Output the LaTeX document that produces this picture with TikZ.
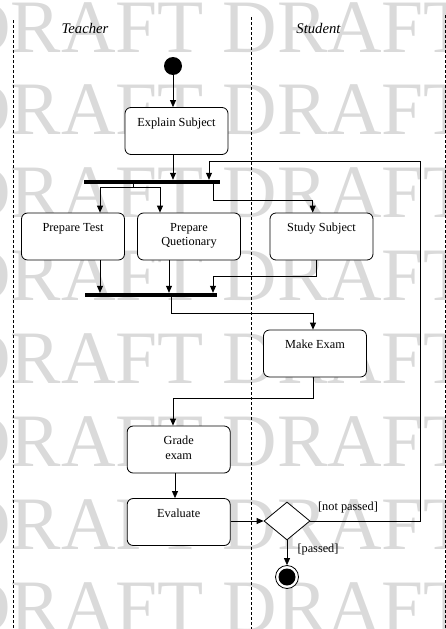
\documentclass[tikz,border=0pt]{standalone}
\usepackage{fontspec}
\setmainfont{Liberation Serif}
\usetikzlibrary{arrows.meta,shapes.geometric}
\definecolor{wmgray}{RGB}{218,218,218}
\begin{document}
\begin{tikzpicture}[x=1pt,y=-1pt,
  every node/.style={font=\fontsize{12.3}{14.5}\selectfont},
  act/.style={draw, rounded corners=6pt, fill=white, minimum width=103pt,
    minimum height=47pt, inner sep=0pt, line width=0.8pt},
  acttext/.style={anchor=north, inner sep=0pt, align=center, yshift=-10.5pt},
  bar/.style={fill=black, inner sep=0pt, minimum height=4pt},
  plain/.style={line width=0.8pt},
  flow/.style={line width=0.8pt, -{Triangle[length=7pt,width=6pt]}},
  lane/.style={line width=0.8pt, dash pattern=on 3pt off 2pt},
  lanetitle/.style={font=\fontsize{14.7}{16}\selectfont\itshape},
  watermark/.style={anchor=base west, inner sep=0pt, text=wmgray,
    font=\fontsize{75.5}{75.5}\selectfont}
]
\useasboundingbox (0,0) rectangle (446,629);
\clip (0,0) rectangle (446,629);

% background watermark rows
\foreach \r in {0,...,7}
  \node[watermark] (wm\r) at (-44,{52+82.9*\r}) {DRAFT DRAFT};

% swimlane separators
\draw[lane] (13.5,20) -- (13.5,629);
\draw[lane] (251,17) -- (251,629);
\draw[lane] (445,15) -- (445,629);
\node[lanetitle] (teacher) at (85,28) {Teacher};
\node[lanetitle] (student) at (318.5,28) {Student};

% activities
\node[circle, fill=black, minimum size=18pt, inner sep=0pt] (start) at (173,66) {};
\node[act] (es) at (176.5,131) {};
\node[acttext] (est) at (es.north) {Explain Subject};
\node[bar, minimum width=136pt] (fork) at (152,182) {};
\node[act] (pt) at (73,236.5) {};
\node[acttext] (ptt) at (pt.north) {Prepare Test};
\node[act] (pq) at (189,236.5) {};
\node[acttext] (pqt) at (pq.north) {Prepare\\Quetionary};
\node[act] (ss) at (321.5,236.5) {};
\node[acttext] (sst) at (ss.north) {Study Subject};
\node[bar, minimum width=132pt] (join) at (151,295) {};
\node[act] (me) at (315,353.5) {};
\node[acttext] (met) at (me.north) {Make Exam};
\node[act] (ge) at (178.7,449.5) {};
\node[acttext] (get) at (ge.north) {Grade\\exam};
\node[act] (ev) at (178.7,522) {};
\node[acttext] (evt) at (ev.north) {Evaluate};
\node[diamond, draw, fill=white, minimum width=46pt, minimum height=38pt,
  inner sep=0pt, line width=0.8pt] (dec) at (287,521) {};
\node[circle, draw, fill=white, minimum size=23pt, inner sep=0pt,
  line width=0.8pt] (stop) at (287,577) {};
\fill (stop.center) circle (8.5);

% guard labels
\node (np) at (348,508) {[not passed]};
\node (ps) at (318,550) {[passed]};

% routing points
\coordinate (c1) at (133,187);
\coordinate (c2) at (213,200.7);
\coordinate (c3) at (213,276);
\coordinate (c4) at (171,313);
\coordinate (c5) at (173,398);
\coordinate (c6) at (175,485);
\coordinate (loopT) at (420,161);
\coordinate (loopL) at (209,161);
\coordinate (ptin) at ([xshift=27pt]pt.north);
\coordinate (ptout) at ([xshift=27pt]pt.south);
\coordinate (pqin) at ([xshift=-29pt]pq.north);
\coordinate (pqout) at ([xshift=-20pt]pq.south);
\coordinate (ssin) at ([xshift=-8.8pt]ss.north);
\coordinate (ssout) at ([xshift=-5.5pt]ss.south);
\coordinate (mein) at ([xshift=-2pt]me.north);
\coordinate (meout) at ([xshift=-2pt]me.south);

% control flow
\draw[flow] (start) -- (start |- es.north);
\draw[flow] (es.south -| start) -- (fork.north -| start);
\draw[flow] (dec.east) -| (loopT) -- (loopL) -- (loopL |- fork.north);
\draw[plain] (c1 |- fork.south) -- (c1);
\draw[flow] (c1) -| (ptin);
\draw[flow] (c1) -| (pqin);
\draw[flow] (c2 |- fork.south) -- (c2) -| (ssin);
\draw[flow] (ptout) -- (ptout |- join.north);
\draw[flow] (pqout) -- (pqout |- join.north);
\draw[flow] (ssout) |- (c3) -- (c3 |- join.north);
\draw[flow] (c4 |- join.south) -- (c4) -| (mein);
\draw[flow] (meout) |- (c5) -- (c5 |- ge.north);
\draw[flow] (c6 |- ge.south) -- (c6 |- ev.north);
\draw[flow] (ev.east |- dec.west) -- (dec.west);
\draw[flow] (dec.south) -- (stop.north);
\end{tikzpicture}
\end{document}
